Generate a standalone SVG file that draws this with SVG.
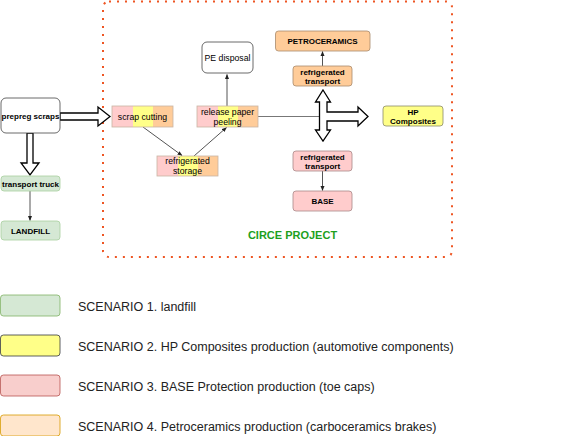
<svg xmlns="http://www.w3.org/2000/svg" width="563" height="436" viewBox="0 0 563 436">
<defs>
<style>
text{font-family:"Liberation Sans",Arial,sans-serif;fill:#000;text-anchor:middle}
.n{font-size:8.7px}
.b{font-size:8px;font-weight:bold}
.leg{font-size:12.5px;text-anchor:start;fill:#222}
.con{stroke:#555;stroke-width:1;fill:none}
.fat{stroke:#000;stroke-width:1.3;fill:#fff;stroke-linejoin:miter}
.pk{fill:#ffcccc}.yl{fill:#ffff88}.or{fill:#ffcc99}
.band{stroke:#c9b4a4;stroke-width:0.8;fill:none}
</style>
<marker id="ah" viewBox="0 0 10 10" refX="9" refY="5" markerWidth="5" markerHeight="5" orient="auto"><path d="M0,1 L10,5 L0,9 Z" fill="#222"/></marker>
</defs>
<rect width="563" height="436" fill="#fff"/>
<rect id="circe-boundary" x="103" y="1.5" width="349" height="255.5" rx="6" fill="none" stroke="#ee5522" stroke-width="2" stroke-dasharray="2 6"/>
<text x="292.5" y="239" style="font-size:11px;font-weight:bold;fill:#1da01d">CIRCE PROJECT</text>
<g id="connectors">
<path class="fat" d="M60,113 L98,113 L98,107 L110,116.5 L98,126 L98,120 L60,120 Z"/>
<path class="fat" d="M27,133 L33,133 L33,163 L39,163 L30,175 L21,163 L27,163 Z"/>
<line class="con" x1="30" y1="191" x2="30" y2="220.5" marker-end="url(#ah)"/>
<line class="con" x1="143" y1="127" x2="182" y2="155.5" marker-end="url(#ah)"/>
<line class="con" x1="194" y1="156" x2="226.5" y2="127.5" marker-end="url(#ah)"/>
<line class="con" x1="227" y1="106" x2="227" y2="74.5" marker-end="url(#ah)"/>
<line class="con" x1="258" y1="116.5" x2="319.5" y2="116.5" style="stroke:#777"/>
<line class="con" x1="322.5" y1="66" x2="322.5" y2="51.5" marker-end="url(#ah)"/>
<line class="con" x1="322.5" y1="171" x2="322.5" y2="190.5" marker-end="url(#ah)"/>
<path class="fat" d="M323,90 L330.5,102 L327,102 L327,112 L358,112 L358,107 L368,116.5 L358,126 L358,121 L327,121 L327,130 L330.5,130 L323,141 L315.5,130 L319.5,130 L319.5,102 L315.5,102 Z"/>
</g>
<g id="prepreg-scraps"><rect x="1" y="98" width="59" height="35" rx="5" fill="#fff" stroke="#444" stroke-width="0.8"/><text class="b" x="30.5" y="118.5">prepreg scraps</text></g>
<g id="transport-truck"><rect x="1" y="176" width="59" height="15" rx="3" fill="#d5e8d4" stroke="#a8cfa0" stroke-width="0.8"/><text class="b" x="30.5" y="186.5">transport truck</text></g>
<g id="landfill"><rect x="1" y="221" width="59" height="19" rx="3" fill="#d5e8d4" stroke="#a8cfa0" stroke-width="0.8"/><text class="b" x="30.5" y="233.5">LANDFILL</text></g>
<g id="scrap-cutting"><rect class="pk" x="112" y="106" width="21" height="21"/><rect class="yl" x="133" y="106" width="20" height="21"/><rect class="or" x="153" y="106" width="20" height="21"/><rect class="band" x="112" y="106" width="61" height="21"/><text class="n" x="142.5" y="119.5">scrap cutting</text></g>
<g id="release-paper-peeling"><rect class="pk" x="197" y="106" width="21" height="21"/><rect class="yl" x="218" y="106" width="20" height="21"/><rect class="or" x="238" y="106" width="20" height="21"/><rect class="band" x="197" y="106" width="61" height="21"/><text class="n" x="227.5" y="114.5">release paper</text><text class="n" x="227.5" y="124.5">peeling</text></g>
<g id="refrigerated-storage"><rect class="pk" x="157" y="156" width="21" height="20"/><rect class="yl" x="178" y="156" width="20" height="20"/><rect class="or" x="198" y="156" width="20" height="20"/><rect class="band" x="157" y="156" width="61" height="20"/><text class="n" x="187.5" y="164">refrigerated</text><text class="n" x="187.5" y="174">storage</text></g>
<g id="pe-disposal"><rect x="202" y="42" width="51" height="31" rx="5" fill="#fff" stroke="#444" stroke-width="0.8"/><text class="n" x="227.5" y="60.5">PE disposal</text></g>
<g id="petroceramics"><rect x="275.5" y="31" width="94.5" height="20" rx="3" class="or" stroke="#a88a6c" stroke-width="0.8"/><text class="b" x="322.5" y="44">PETROCERAMICS</text></g>
<g id="refrigerated-transport-top"><rect x="293" y="66" width="59" height="20" rx="3" class="or" stroke="#a88a6c" stroke-width="0.8"/><text class="b" x="322.5" y="74.5">refrigerated</text><text class="b" x="322.5" y="83.5">transport</text></g>
<g id="hp-composites"><rect x="383" y="106" width="60" height="20" rx="3" class="yl" stroke="#8a8a6a" stroke-width="0.8"/><text class="b" x="413" y="114.5">HP</text><text class="b" x="413" y="123.5">Composites</text></g>
<g id="refrigerated-transport-bottom"><rect x="293" y="151" width="59" height="20" rx="3" class="pk" stroke="#a88888" stroke-width="0.8"/><text class="b" x="322.5" y="159.5">refrigerated</text><text class="b" x="322.5" y="168.5">transport</text></g>
<g id="base"><rect x="293" y="191" width="59" height="20" rx="3" class="pk" stroke="#a88888" stroke-width="0.8"/><text class="b" x="322.5" y="204">BASE</text></g>
<g id="legend">
<rect x="0.5" y="295" width="59.5" height="21" rx="3" fill="#d5e8d4" stroke="#82b366" stroke-width="0.8"/>
<text class="leg" x="78" y="310.5">SCENARIO 1. landfill</text>
<rect x="0.5" y="335" width="59.5" height="21" rx="3" fill="#ffff88" stroke="#36393d" stroke-width="0.8"/>
<text class="leg" x="78" y="350.5">SCENARIO 2. HP Composites production (automotive components)</text>
<rect x="0.5" y="375" width="59.5" height="21" rx="3" fill="#f8cecc" stroke="#b85450" stroke-width="0.8"/>
<text class="leg" x="78" y="390.5">SCENARIO 3. BASE Protection production (toe caps)</text>
<rect x="0.5" y="415" width="59.5" height="21" rx="3" fill="#ffe6cc" stroke="#d79b00" stroke-width="0.8"/>
<text class="leg" x="78" y="430.5">SCENARIO 4. Petroceramics production (carboceramics brakes)</text>
</g>
</svg>
